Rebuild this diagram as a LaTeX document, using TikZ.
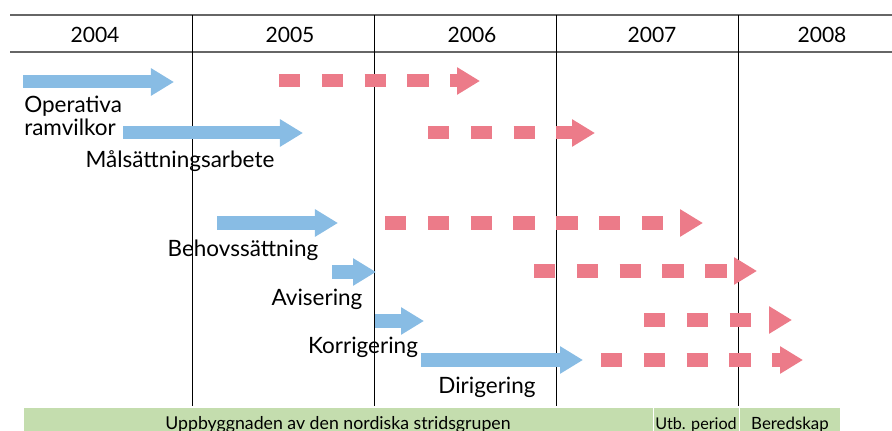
\documentclass[tikz,border=0pt]{standalone}
\usepackage{fontspec}
\setmainfont{Lato}
\definecolor{planblue}{RGB}{136,188,228}
\definecolor{planred}{RGB}{236,123,137}
\definecolor{bargreen}{RGB}{196,221,174}
\usetikzlibrary{arrows.meta}

\begin{document}
\begin{tikzpicture}[x=0.025cm,y=-0.025cm,line cap=butt,
                    font=\fontsize{16}{17}\selectfont,
                    plan/.style={draw=planblue,line width=0.325cm,-{Triangle[length=0.575cm,width=0.65cm]}},
                    later/.style={draw=planred,line width=0.325cm,dash pattern=on 0.533cm off 0.537cm,
                                  -{Triangle[length=0.575cm,width=0.65cm]}},
                    phase/.style={fill=bargreen,draw=white,line width=0.6pt},
                    step label/.style={anchor=base},
                    year/.style={anchor=base,font=\fontsize{15}{17}\selectfont},
                    phase label/.style={anchor=base,font=\fontsize{11.5}{13}\selectfont},
                ]
  \useasboundingbox (0,0) rectangle (892,431);

  % year header
  \draw[black!60,line width=1.2pt] (10,15) -- (892,15) (10,52) -- (892,52);
  \foreach \x in {192,374,556,738}
    \draw[black,line width=0.6pt] (\x,15) -- (\x,406);
  \node[year] (y2004) at (95,43)  {2004};
  \node[year] (y2005) at (290,43) {2005};
  \node[year] (y2006) at (472,43) {2006};
  \node[year] (y2007) at (652,43) {2007};
  \node[year] (y2008) at (822,43) {2008};

  % phase bar
  \path[phase] (23,407) rectangle (653,440);
  \path[phase] (653,407) rectangle (739,440);
  \path[phase] (739,407) rectangle (840,440);
  \node[phase label,font=\fontsize{12.6}{13}\selectfont] (build) at (338,429) {Uppbyggnaden av den nordiska stridsgrupen};
  \node[phase label] (train) at (696,429) {Utb. period};
  \node[phase label,font=\fontsize{12}{13}\selectfont] (ready) at (790,429) {Beredskap};

  % arrow end points
  \coordinate (opA) at (23,82);   \coordinate (opB) at (174,82);
  \coordinate (opC) at (279,81);  \coordinate (opD) at (480,81);
  \coordinate (maA) at (123,133); \coordinate (maB) at (303,133);
  \coordinate (maC) at (428,133); \coordinate (maD) at (595,133);
  \coordinate (beA) at (217,223); \coordinate (beB) at (338,223);
  \coordinate (beC) at (385,223); \coordinate (beD) at (703,223);
  \coordinate (avA) at (332,272); \coordinate (avB) at (376,272);
  \coordinate (avC) at (534,271); \coordinate (avD) at (757,271);
  \coordinate (koA) at (375,321); \coordinate (koB) at (424,321);
  \coordinate (koC) at (644,320); \coordinate (koD) at (792,320);
  \coordinate (diA) at (421,360); \coordinate (diB) at (583,360);
  \coordinate (diC) at (601,360); \coordinate (diD) at (803,360);

  \path (opA) edge[plan]  (opB)
        (opC) edge[later] (opD)
        (maA) edge[plan]  (maB)
        (maC) edge[later] (maD)
        (beA) edge[plan]  (beB)
        (beC) edge[later] (beD)
        (avA) edge[plan]  (avB)
        (avC) edge[later] (avD)
        (koA) edge[plan]  (koB)
        (koC) edge[later] (koD)
        (diA) edge[plan]  (diB)
        (diC) edge[later] (diD)
        ;

  % labels
  \node[anchor=base west,align=left,inner sep=0pt,font=\fontsize{16}{16.4}\selectfont] (op) at (24,136) {Operativa\\ramvilkor};
  \node[step label] (ma) at (180,168) {Målsättningsarbete};
  \node[step label] (be) at (243,257) {Behovssättning};
  \node[step label] (av) at (317,305) {Avisering};
  \node[step label] (ko) at (363,353) {Korrigering};
  \node[step label] (di) at (487,393) {Dirigering};
\end{tikzpicture}
\end{document}
